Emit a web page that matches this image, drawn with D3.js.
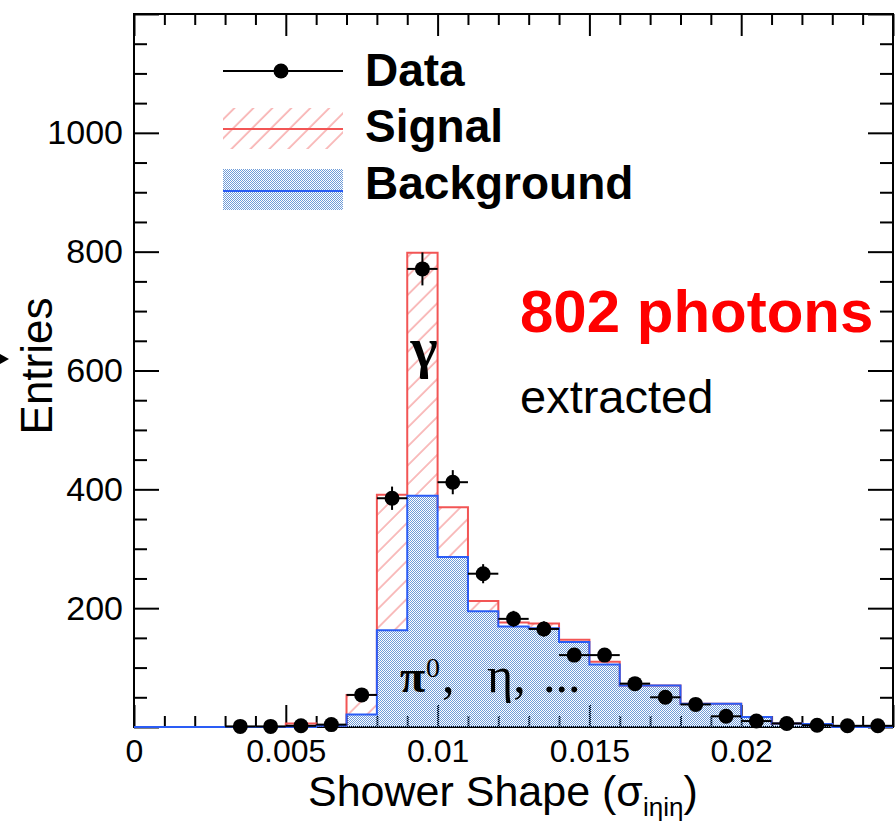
<!DOCTYPE html>
<html>
<head>
<meta charset="utf-8">
<script src="https://cdn.jsdelivr.net/npm/d3@7"></script>
<style>
  html, body { margin: 0; padding: 0; background: #fff; }
  svg { display: block; font-family: "Liberation Sans", Arial, Helvetica, sans-serif; }
</style>
</head>
<body>
<svg id="chart" width="896" height="824"></svg>
<script>
// Shower-shape template fit: 25 bins of width 0.001 from 0 to 0.025
const binWidth = 0.001;
const binLowEdges = d3.range(25).map(i => +(i * binWidth).toFixed(3));

// Background template (pi0, eta, ...) per bin
const background = [0, 0, 0, 0, 0, 0, 2, 21, 163, 389, 286, 195, 169, 166, 143, 105, 70, 70, 39, 39, 17, 6, 5, 0, 0];
// Signal template (prompt photons) stacked on top of background
const signal =     [0, 0, 0, 0, 0, 6, 1, 33, 228, 409, 84, 17, 7, 8, 4, 5, 0, 0, 0, 0, 0, 0, 0, 0, 0];

// Measured data points (bin centres and counts)
const dataX = [0.0035, 0.0045, 0.0055, 0.0065, 0.0075, 0.0085, 0.0095, 0.0105, 0.0115, 0.0125, 0.0135,
               0.0145, 0.0155, 0.0165, 0.0175, 0.0185, 0.0195, 0.0205, 0.0215, 0.0225, 0.0235, 0.0245];
const dataY = [1, 1, 2, 4, 54, 385, 771, 412, 258, 182, 165, 121, 121, 73, 50, 38, 18, 10, 6, 3, 2, 2];

// Axis ticks
const xMajorTicks = [0, 0.005, 0.01, 0.015, 0.02, 0.025];
const xTickLabels = ["0", "0.005", "0.01", "0.015", "0.02", ""];
const yMajorTicks = [0, 200, 400, 600, 800, 1000, 1200];
const yTickLabels = ["", "200", "400", "600", "800", "1000", ""];

const frame = { left: 134, right: 893, top: 14, bottom: 727 };

const svg = d3.select("#chart");
const x = d3.scaleLinear().domain([0, 0.025]).range([frame.left, frame.right]);
const y = d3.scaleLinear().domain([0, 1200]).range([frame.bottom, frame.top]);

// ---- fill patterns ----
const defs = svg.append("defs");
const hatch = defs.append("pattern")
  .attr("id", "sigHatch").attr("patternUnits", "userSpaceOnUse")
  .attr("width", 13.4).attr("height", 13.4)
  .attr("patternTransform", "rotate(45)");
hatch.append("line").attr("x1", 1).attr("y1", 0).attr("x2", 1).attr("y2", 13.4)
  .attr("stroke", "#f59a9a").attr("stroke-width", 1.3);

const dots = defs.append("pattern")
  .attr("id", "bkgDots").attr("patternUnits", "userSpaceOnUse")
  .attr("width", 2).attr("height", 2);
dots.append("rect").attr("x", 0).attr("y", 0).attr("width", 1).attr("height", 1).attr("fill", "#6f9cd8");
dots.append("rect").attr("x", 1).attr("y", 1).attr("width", 1).attr("height", 1).attr("fill", "#6f9cd8");

// ---- axes (ticks point inward) ----
function styleAxis(g) {
  g.select(".domain").remove();
  g.selectAll(".tick line").attr("stroke", "#000").attr("stroke-width", 2);
  g.selectAll(".tick text").attr("fill", "#000");
}
const xMinor = d3.range(26).map(i => i * 0.001).filter(v => !xMajorTicks.some(m => Math.abs(m - v) < 1e-9));
const yMinor = d3.range(25).map(i => i * 50).filter(v => v % 200 !== 0);

svg.append("g").attr("transform", `translate(0,${frame.bottom})`)
  .call(d3.axisBottom(x).tickValues(xMinor).tickSize(-11).tickFormat("")).call(styleAxis);
svg.append("g").attr("transform", `translate(0,${frame.bottom})`)
  .call(d3.axisBottom(x).tickValues(xMajorTicks).tickSize(-22).tickPadding(12)
    .tickFormat((d, i) => xTickLabels[i]))
  .call(styleAxis)
  .selectAll("text").attr("font-size", 32);

svg.append("g").attr("transform", `translate(0,${frame.top})`)
  .call(d3.axisTop(x).tickValues(xMinor).tickSize(-11).tickFormat("")).call(styleAxis);
svg.append("g").attr("transform", `translate(0,${frame.top})`)
  .call(d3.axisTop(x).tickValues(xMajorTicks).tickSize(-22).tickFormat("")).call(styleAxis);

svg.append("g").attr("transform", `translate(${frame.left},0)`)
  .call(d3.axisLeft(y).tickValues(yMinor).tickSize(-13).tickFormat("")).call(styleAxis);
svg.append("g").attr("transform", `translate(${frame.left},0)`)
  .call(d3.axisLeft(y).tickValues(yMajorTicks).tickSize(-25).tickPadding(11)
    .tickFormat((d, i) => yTickLabels[i]))
  .call(styleAxis)
  .selectAll("text").attr("font-size", 34);

svg.append("g").attr("transform", `translate(${frame.right},0)`)
  .call(d3.axisRight(y).tickValues(yMinor).tickSize(-13).tickFormat("")).call(styleAxis);
svg.append("g").attr("transform", `translate(${frame.right},0)`)
  .call(d3.axisRight(y).tickValues(yMajorTicks).tickSize(-25).tickFormat("")).call(styleAxis);

svg.append("rect")
  .attr("x", frame.left).attr("y", frame.top)
  .attr("width", frame.right - frame.left).attr("height", frame.bottom - frame.top)
  .attr("fill", "none").attr("stroke", "#000").attr("stroke-width", 2);

// ---- stacked histograms ----
const bins = binLowEdges.map((lo, i) => ({ lo, bkg: background[i], tot: background[i] + signal[i] }));
const stepPts = bins.concat([{ lo: 0.025, bkg: bins[bins.length - 1].bkg, tot: bins[bins.length - 1].tot }]);

svg.append("path").datum(stepPts)
  .attr("d", d3.area().curve(d3.curveStepAfter).x(d => x(d.lo)).y0(d => y(d.bkg)).y1(d => y(d.tot)))
  .attr("fill", "url(#sigHatch)");
svg.append("path").datum(stepPts)
  .attr("d", d3.area().curve(d3.curveStepAfter).x(d => x(d.lo)).y0(y(0)).y1(d => y(d.bkg)))
  .attr("fill", "url(#bkgDots)");

svg.append("path").datum(stepPts)
  .attr("d", d3.line().curve(d3.curveStepAfter).x(d => x(d.lo)).y(d => y(d.tot)))
  .attr("fill", "none").attr("stroke", "#f25555").attr("stroke-width", 2);
svg.append("path").datum(stepPts)
  .attr("d", d3.line().curve(d3.curveStepAfter).x(d => x(d.lo)).y(d => y(d.bkg)))
  .attr("fill", "none").attr("stroke", "#2a5cf5").attr("stroke-width", 2);

// ---- data points with Poisson errors ----
const pts = svg.append("g");
dataX.forEach((cx, i) => {
  const n = dataY[i], err = Math.sqrt(n);
  pts.append("line")
    .attr("x1", x(cx - binWidth / 2)).attr("x2", x(cx + binWidth / 2))
    .attr("y1", y(n)).attr("y2", y(n))
    .attr("stroke", "#000").attr("stroke-width", 2);
  pts.append("line")
    .attr("x1", x(cx)).attr("x2", x(cx))
    .attr("y1", y(n - err)).attr("y2", y(n + err))
    .attr("stroke", "#000").attr("stroke-width", 2);
  pts.append("circle").attr("cx", x(cx)).attr("cy", y(n)).attr("r", 7.5).attr("fill", "#000");
});

// ---- legend ----
const lg = svg.append("g");
lg.append("line").attr("x1", 223).attr("x2", 343).attr("y1", 71).attr("y2", 71)
  .attr("stroke", "#000").attr("stroke-width", 2);
lg.append("circle").attr("cx", 281).attr("cy", 71).attr("r", 7.5).attr("fill", "#000");
lg.append("rect").attr("x", 223).attr("y", 108).attr("width", 120).attr("height", 41).attr("fill", "url(#sigHatch)");
lg.append("line").attr("x1", 223).attr("x2", 343).attr("y1", 129).attr("y2", 129)
  .attr("stroke", "#f25555").attr("stroke-width", 2);
lg.append("rect").attr("x", 223).attr("y", 169).attr("width", 120).attr("height", 41).attr("fill", "url(#bkgDots)");
lg.append("line").attr("x1", 223).attr("x2", 343).attr("y1", 191).attr("y2", 191)
  .attr("stroke", "#2a5cf5").attr("stroke-width", 2);
[["Data", 86], ["Signal", 142], ["Background", 199]].forEach(([t, by]) => {
  lg.append("text").attr("x", 365).attr("y", by).attr("font-size", 46).attr("font-weight", "bold")
    .attr("fill", "#000").text(t);
});

// ---- annotations ----
svg.append("text").attr("x", 520).attr("y", 332).attr("font-size", 60).attr("font-weight", "bold")
  .attr("fill", "#ff0000").text("802 photons");
svg.append("text").attr("x", 520).attr("y", 413).attr("font-size", 47)
  .attr("fill", "#000").text("extracted");

const serif = "'Liberation Serif', 'Times New Roman', serif";
svg.append("text").attr("x", 424).attr("y", 367).attr("text-anchor", "middle")
  .attr("font-family", serif)
  .attr("font-size", 58).attr("font-weight", "bold").attr("fill", "#000").text("γ");

svg.append("text").attr("x", 400).attr("y", 692).attr("font-family", serif)
  .attr("font-size", 46).attr("font-weight", "bold").attr("fill", "#000").text("π");
svg.append("text").attr("x", 426).attr("y", 677).attr("font-family", serif)
  .attr("font-size", 28).attr("fill", "#000").text("0");
svg.append("text").attr("x", 442).attr("y", 692).attr("font-family", serif)
  .attr("font-size", 50).attr("fill", "#000").text(",");
svg.append("text").attr("x", 487).attr("y", 692).attr("font-family", serif)
  .attr("font-size", 50).attr("fill", "#000").text("η,");
svg.append("text").attr("x", 543).attr("y", 692).attr("font-family", serif)
  .attr("font-size", 50).attr("fill", "#000").text("...");

// ---- axis titles ----
const xt = svg.append("text").attr("x", 308).attr("y", 806).attr("font-size", 43).attr("fill", "#000");
xt.append("tspan").text("Shower Shape (σ");
xt.append("tspan").attr("font-size", 26).attr("dy", 10).text("iηiη");
xt.append("tspan").attr("dy", -10).text(")");

svg.append("text").attr("transform", "translate(52,366) rotate(-90)")
  .attr("text-anchor", "middle").attr("font-size", 44).attr("fill", "#000").text("Entries");

// arrow head entering from the left edge
svg.append("path").attr("d", "M0,354 L9,359 L0,364 Z").attr("fill", "#000");
</script>
</body>
</html>
